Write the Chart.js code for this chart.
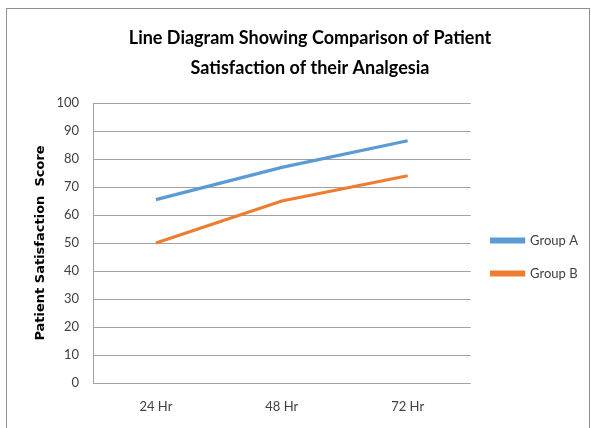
<!DOCTYPE html>
<html>
<head>
<meta charset="utf-8">
<script src="https://cdn.jsdelivr.net/npm/chart.js@4/dist/chart.umd.min.js"></script>
<style>
  html, body { margin: 0; padding: 0; background: #fff; }
  #wrap { position: relative; width: 591px; height: 428px; overflow: hidden; }
  #frame { position: absolute; left: 6px; top: 8px; width: 582px; height: 440px; border: 1px solid #8f8f8f; }
  canvas { position: absolute; left: 0; top: 0; }
</style>
</head>
<body>
<div id="wrap">
  <div id="frame"></div>
  <canvas id="customChart" width="591" height="428"></canvas>
</div>
<script>
let labels = ['24 Hr', '48 Hr', '72 Hr'];
let groupA = [65.5, 77, 86.5];
let groupB = [50, 65, 74];
let seriesNames = ['Group A', 'Group B'];
let colorHex = ['#5b9bd5', '#ed7d31'];
let titleLines = ['Line Diagram Showing Comparison of Patient', 'Satisfaction of their Analgesia'];

Chart.defaults.font.family = 'Lato, "Open Sans", sans-serif';
Chart.defaults.color = '#404040';

let ctx = document.getElementById('customChart').getContext('2d');

let myChart = new Chart(ctx, {
  type: 'line',
  data: {
    labels: labels,
    datasets: [{
      label: seriesNames[0],
      data: groupA,
      borderColor: colorHex[0],
      backgroundColor: colorHex[0],
      borderWidth: 3.2,
      pointRadius: 0,
      tension: 0
    }, {
      label: seriesNames[1],
      data: groupB,
      borderColor: colorHex[1],
      backgroundColor: colorHex[1],
      borderWidth: 3.2,
      pointRadius: 0,
      tension: 0
    }]
  },
  options: {
    responsive: false,
    animation: false,
    layout: {
      padding: { left: 33, right: 4, top: 10, bottom: 0 }
    },
    plugins: {
      title: {
        display: true,
        text: titleLines,
        color: '#000',
        font: { size: 18, weight: 'bold', lineHeight: '30px' },
        padding: { top: 13, bottom: 20 }
      },
      legend: {
        position: 'right',
        labels: {
          boxWidth: 32,
          boxHeight: 3,
          color: '#404040',
          font: { size: 13 },
          padding: 20
        }
      },
      tooltip: { enabled: false }
    },
    scales: {
      x: {
        offset: true,
        grid: { display: false, drawTicks: false },
        border: { display: false },
        ticks: { padding: 16, font: { size: 13 } },
        afterFit: (scale) => { scale.height = 45; }
      },
      y: {
        min: 0,
        max: 100,
        ticks: { stepSize: 10, padding: 14, font: { size: 13 } },
        grid: { color: '#a0a0a0', drawTicks: false },
        border: { color: '#a0a0a0' },
        title: {
          display: true,
          text: 'Patient Satisfaction  Score',
          color: '#000',
          font: { family: '"DejaVu Sans", sans-serif', size: 13, weight: 'bold' },
          padding: 0
        },
        afterFit: (scale) => { scale.width = 60; }
      }
    }
  },
  plugins: [{
    // push the legend down a bit, like the original layout
    id: 'legendShift',
    afterLayout(chart) {
      let lg = chart.legend;
      lg.left += 1;
      lg.right += 1;
      lg.top += 38;
      lg.bottom += 38;
    }
  }]
});
</script>
</body>
</html>
